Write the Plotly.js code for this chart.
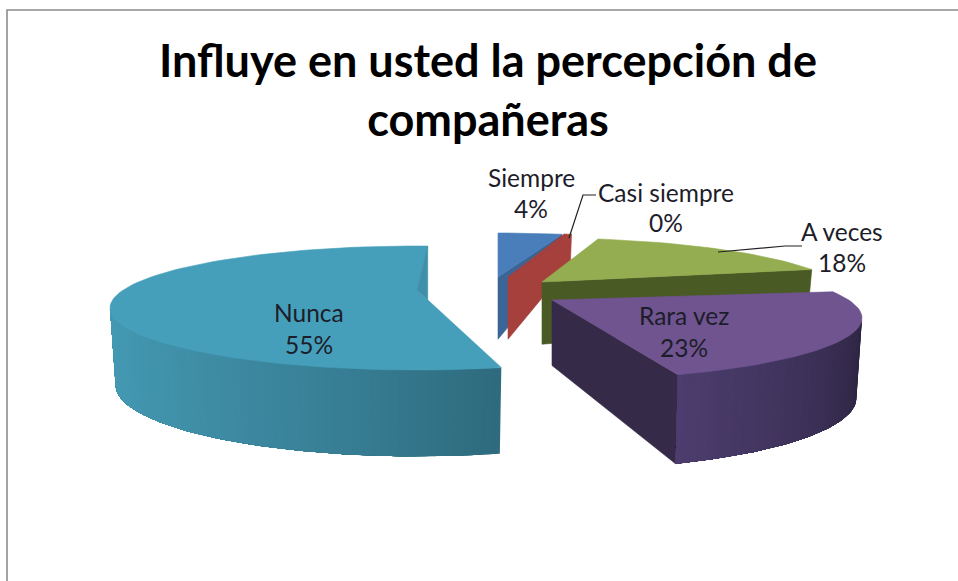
<!DOCTYPE html>
<html><head><meta charset="utf-8">
<script src="https://cdn.plot.ly/plotly-3.0.1.min.js"></script>
<style>html,body{margin:0;padding:0;background:#fff}#c{width:958px;height:581px}</style>
</head><body><div id="c"></div>
<script>
const titleText = "Influye en usted la percepción de<br>compañeras";
const categories = ["Siempre","Casi siempre","A veces","Rara vez","Nunca"];
const values = [4,0,18,23,55];

// drawing configuration for the tilted, exploded pie (screen pixels / degrees)
const apexX = [498,508,542,552,417];
const apexY = [277,277,282,300,290];
const radiusX = [310,310,310,310,307];
const nudgeStart = [0,0,0,1.5,7];
const nudgeEnd = [1.5,1.4,-3,-1,2];
const heightK = [0.95,0.95,0.95,1,0.96];
const topColors = ["#4a7ebb","#a5403c","#93ad50","#6f5490","#459fba"];
const wallColors = ["#3a6596","#a5403c","#4a5a24","#352a48",null];
const rimColors = [null,null,null,["#2c2440","#4c3d6e"],["#2e6a7d","#4499b3"]];
const labelX = [531,666,842,684,309];
const nameY = [177,192,231,315,312];
const pctY = [208,222,262,347,344];
const RY = 62, CENTER_DROP = 18;

const rad = d => d*Math.PI/180;
const warp = t => t - 16*Math.max(Math.sin(rad(t)),0);
const hex = c => [1,3,5].map(i=>parseInt(c.substr(i,2),16));
const mix = (a,b,f) => { const A=hex(a),B=hex(b); return "rgb("+A.map((v,i)=>Math.round(v+(B[i]-v)*f)).join(",")+")"; };

const traces = [];
function poly(pts,color,w){
  traces.push({type:"scatter",mode:"lines",x:pts.map(p=>p[0]),y:pts.map(p=>p[1]),
    fill:"toself",fillcolor:color,line:{color:color,width:w===undefined?0.6:w},hoverinfo:"skip",showlegend:false});
}
const total = values.reduce((a,b)=>a+b,0);
let cum = 0;
const order = [0,1,2,4,3];
const geo = values.map((v,i)=>{
  const t0 = cum/total*360; cum += v; const t1 = cum/total*360;
  return {phi0:warp(t0)+nudgeStart[i], phi1:warp(t1)+nudgeEnd[i]};
});
order.forEach(i=>{
  const g = geo[i], ax=apexX[i], ay=apexY[i], ey=ay+CENTER_DROP, rx=radiusX[i];
  const rim = p => [ax+rx*Math.sin(rad(p)), ey-RY*Math.cos(rad(p))];
  const hAt = y => { const v=(y-ey)/RY; return (v>=0?80+10*v:80+50*v)*heightK[i]; };
  const down = pt => [ax+(pt[0]-ax)*0.982, pt[1]+hAt(pt[1])];
  if (wallColors[i]) {
    const r=rim(g.phi1), a=[ax,ay];
    poly([a,r,down(r),down(a),a],wallColors[i]);
  }
  // outer curved wall: shaded strips, each painted from its start to the far end so no seams show
  if (rimColors[i]) {
    const lo=Math.max(g.phi0,90), hi=Math.min(g.phi1,270), n=60;
    for(let k=0;k<n;k++){
      const p=lo+(hi-lo)*k/n;
      const f=(k+0.5)/n;
      const col = i===4 ? mix(rimColors[i][1],rimColors[i][0],Math.pow(1-f,1.6)) : mix(rimColors[i][0],rimColors[i][1],f);
      const top=[], bot=[], m=Math.max(2,n-k);
      for(let j=0;j<=m;j++){ const a=rim(p+(hi-p)*j/m); top.push(a); bot.unshift(down(a)); }
      poly(top.concat(bot,[top[0]]),col,0);
    }
  }
  const pts=[[ax,ay]];
  const steps=Math.max(2,Math.ceil((g.phi1-g.phi0)/2));
  for(let k=0;k<=steps;k++) pts.push(rim(g.phi0+(g.phi1-g.phi0)*k/steps));
  pts.push([ax,ay]);
  poly(pts,topColors[i]);
  if (g.phi1-g.phi0>180) {
    const e=rim(g.phi1), s=rim(g.phi0);
    const f=(e[0]-ax)/(s[0]-ax);
    poly([e,[ax,ay],[e[0],ay+(s[1]-ay)*f],e],"#3e8fa8");
  }
});

const annotations=[];
categories.forEach((c,i)=>{
  const col = "#1d1d2a";
  annotations.push({x:labelX[i],y:nameY[i],xref:"x",yref:"y",text:c,showarrow:false,xanchor:"center",yanchor:"middle",font:{family:"Lato, sans-serif",size:24.5,color:col}});
  annotations.push({x:labelX[i],y:pctY[i],xref:"x",yref:"y",text:values[i]+"%",showarrow:false,xanchor:"center",yanchor:"middle",font:{family:"Lato, sans-serif",size:24.5,color:col}});
});

const layout={
  width:958,height:581,margin:{l:0,r:0,t:0,b:0},paper_bgcolor:"#fff",plot_bgcolor:"#fff",showlegend:false,
  xaxis:{range:[0,958],visible:false,fixedrange:true},
  yaxis:{range:[581,0],visible:false,fixedrange:true},
  title:{text:titleText,x:488/958,xanchor:"center",xref:"paper",y:1-77/581,yanchor:"top",font:{family:"Lato, sans-serif",size:45,color:"#000",weight:700}},
  annotations,
  shapes:[
    {type:"path",xref:"x",yref:"y",path:"M 7 581 L 7 10 L 958 10",line:{color:"#8c8c8c",width:1.6}},
    {type:"path",xref:"x",yref:"y",path:"M 569 238 L 583 195 L 596 195",line:{color:"#222",width:1.2}},
    {type:"path",xref:"x",yref:"y",path:"M 718 252 L 785 246 L 802 246",line:{color:"#222",width:1.2}}
  ]
};
Plotly.newPlot("c",traces,layout,{displayModeBar:false,staticPlot:true});
</script></body></html>
